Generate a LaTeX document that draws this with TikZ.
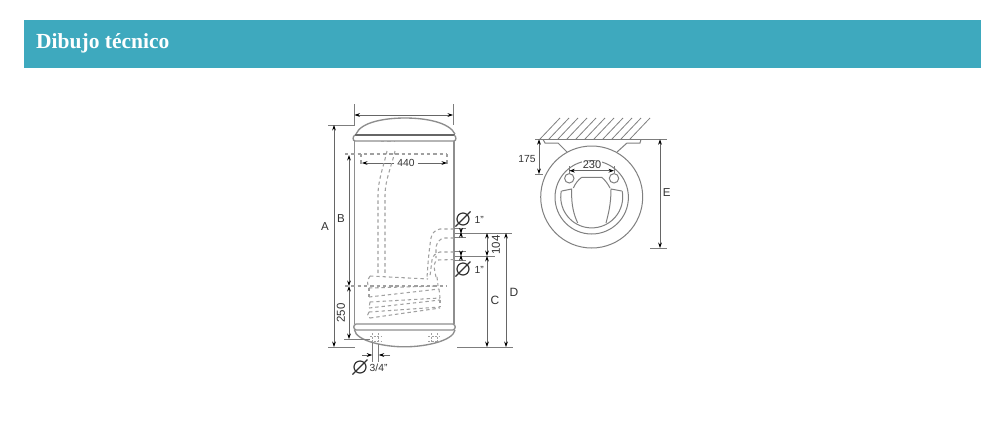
\documentclass[tikz,border=0pt]{standalone}
\usepackage{fontspec}
\setmainfont{Liberation Sans}
\newfontfamily\headfont{Liberation Serif Bold}
\usetikzlibrary{arrows.meta,calc}
\definecolor{band}{HTML}{3EA9BE}
\definecolor{tankc}{HTML}{8E8E8E}
\definecolor{dimc}{HTML}{666666}
\definecolor{dashc}{HTML}{A0A0A0}
\tikzset{
  tank/.style={draw=tankc,line width=1.35pt},
  view/.style={draw=tankc!90!black,line width=1pt},
  ext/.style={draw=dimc!85,line width=0.75pt},
  dimen/.style={draw=dimc,line width=0.75pt,{Stealth[length=5.5pt,width=3.8pt,black]}-{Stealth[length=5.5pt,width=3.8pt,black]}},
  arrow in/.style={draw=dimc,line width=0.75pt,-{Stealth[length=5.5pt,width=3.8pt,black]}},
  hidden/.style={draw=dashc,line width=1.05pt,dash pattern=on 3.4pt off 2.9pt},
  lab/.style={inner sep=0pt,text=black!80,font=\fontsize{11.5}{13}\selectfont},
  small/.style={inner sep=0pt,text=black!80,font=\fontsize{10.3}{12}\selectfont},
  phi/.style={circle,draw=black!80,line width=1.2pt,minimum size=12pt,inner sep=0pt},
}
\newcommand{\phisym}[2]{%
  \node[phi] (#1) at (#2) {};
  \draw[black!80,line width=1.2pt] ($(#1)+(-7.5,7.5)$) -- ($(#1)+(7.5,-7.5)$);}
\begin{document}
\begin{tikzpicture}[x=1pt,y=-1pt]
\useasboundingbox (0,0) rectangle (1000,424);
\fill[white] (0,0) rectangle (1000,424);
\fill[band] (24,20) rectangle (981,68);
\node[anchor=west,inner sep=0pt,text=white,font=\headfont\fontsize{21.5}{26}\selectfont] (title) at (36,43.5) {Dibujo técnico};

% tank
\draw[tank] (356,134) .. controls (361,122) and (385,118) .. (405,118) .. controls (425,118) and (449,122) .. (455,134);
\draw[tank,line width=1.6pt,draw=dimc] (355,134.7) -- (455,134.7);
\draw[tank] (355,135) .. controls (352.5,136) and (352.5,141) .. (355,141) -- (454,141) .. controls (456.5,141) and (456.5,136) .. (454,135);
\draw[tank] (354.7,141) -- (354.7,324);
\draw[tank] (454,141) -- (454,324);
\draw[tank] (356,324) -- (453,324) .. controls (456,325) and (456,329) .. (453,330) -- (356,330) .. controls (353,329) and (353,325) .. (356,324);
\draw[tank] (354.5,330) .. controls (356,341) and (385,347) .. (405,346.8) .. controls (425,346.8) and (453,341) .. (455,330);

% top dims
\draw[ext] (354.5,104) -- (354.5,125) -- (328,125);
\draw[ext] (453,104) -- (453,125);
\coordinate (wl) at (354.5,115); \coordinate (wr) at (453,115);
\draw[dimen] (wl) -- (wr);

% A, B, 250
\coordinate (Atop) at (334,125); \coordinate (Abot) at (334,347);
\draw[dimen] (Atop) -- (Abot);
\node[lab] (A) at (325,227) {A};
\draw[ext] (328,347) -- (355,347);
\coordinate (Btop) at (349,155); \coordinate (Bbot) at (349,286);
\draw[dimen] (Btop) -- (Bbot);
\node[lab] (B) at (341,219) {B};
\coordinate (Ctop) at (349,286); \coordinate (Cbot) at (349,339);
\draw[dimen] (Ctop) -- (Cbot);
\node[lab,rotate=90] (n250) at (341,313) {250};
\draw[ext] (344,339) -- (370,339);

% 440
\draw[hidden] (345,154) -- (447,154);
\draw[hidden] (361,154) -- (361,164);
\draw[hidden] (447,154) -- (447,164);
\node[small,fill=white,inner xsep=3pt] (n440) at (406,163) {440};
\coordinate (d440l) at (362,163); \coordinate (d440r) at (447,163);
\draw[arrow in] (n440.west) -- (d440l);
\draw[arrow in] (n440.east) -- (d440r);

% left riser
\draw[hidden] (381,141.7) -- (395,141.7);
\draw[hidden] (387,151) .. controls (384,165) and (378,180) .. (378,195) -- (378,275);
\draw[hidden] (395,151) .. controls (392,165) and (385,180) .. (385,195) -- (385,275);

% coil
\draw[hidden] (370,276) -- (428,279);
\draw[hidden] (370,276) .. controls (367,280) and (367,285) .. (369,288) -- (438,286);
\draw[hidden] (369,297) -- (439,289);
\draw[hidden] (437,277) -- (438,286);
\draw[hidden] (369,288) -- (369,297);
\draw[hidden] (439,289) -- (440,298);
\draw[hidden] (370,302) -- (440,298);
\draw[hidden] (369,308) -- (440,300);
\draw[hidden] (370,302) -- (369,308);
\draw[hidden] (440,300) -- (440,307);
\draw[hidden] (369,312) -- (440,307);
\draw[hidden] (370,318) -- (440,308);
\draw[hidden] (369,312) .. controls (367,314) and (367,316) .. (370,318);
\draw[hidden] (345,286) -- (447,286);

% right pipes
\draw[hidden] (454,229) -- (440,229) .. controls (434,230) and (432,234) .. (431,238) .. controls (429,250) and (428,262) .. (427,278);
\draw[hidden] (454,238) -- (444,238) .. controls (439,239) and (437,243) .. (436,247) -- (436,258);
\draw[hidden] (454,252) -- (440,252) .. controls (435,253) and (433,256) .. (432,260) -- (430,276);
\draw[hidden] (454,259.5) -- (438,260) .. controls (434,261) and (433,265) .. (436,277);

% right dims
\draw[ext] (455,233) -- (512,233);
\draw[ext] (455,256) -- (495,256);
\draw[ext] (457,347) -- (513,347);
\draw[ext] (454,228.5) -- (466,228.5);
\draw[ext] (454,237.5) -- (466,237.5);
\draw[ext] (454,251) -- (466,251);
\draw[ext] (454,260) -- (466,260);
\draw[arrow in] (461,237.5) -- (461,232);
\draw[arrow in] (461,228.5) -- (461,233.5);
\draw[arrow in] (461,260) -- (461,255);
\draw[arrow in] (461,251) -- (461,256);
\coordinate (Ct) at (487,256); \coordinate (Cb) at (487,347);
\draw[dimen] (Ct) -- (Cb);
\coordinate (nt) at (487,233); \coordinate (nb) at (487,256);
\draw[dimen] (nt) -- (nb);
\node[lab,rotate=90] (n104) at (496,245) {104};
\node[lab,font=\fontsize{12}{13}\selectfont] (C) at (495,300) {C};
\coordinate (Dt) at (506,233); \coordinate (Db) at (506,347);
\draw[dimen] (Dt) -- (Db);
\node[lab,font=\fontsize{12}{13}\selectfont] (D) at (514,292) {D};
\phisym{p1}{463,219}
\node[small,anchor=west] (t1) at (474.5,220) {1"};
\phisym{p2}{463,269}
\node[small,anchor=west] (t2) at (474.5,270) {1"};

% bottom
\foreach \x in {372,378,431,437}{\draw[dashc,line width=0.7pt,dash pattern=on 2pt off 1.5pt] (\x,333) -- (\x,342);}
\draw[dashc,line width=0.7pt,dash pattern=on 2pt off 1.5pt] (370,336) -- (381,336) (370,341) -- (381,341) (428,336) -- (439,336) (428,341) -- (439,341);
\draw[ext] (372.3,343) -- (372.3,362);
\draw[ext] (378.7,344) -- (378.7,362);
\coordinate (b1) at (362,355); \coordinate (b1e) at (372.3,355);
\coordinate (b2) at (390,355); \coordinate (b2e) at (378.7,355);
\draw[arrow in] (b1) -- (b1e);
\draw[arrow in] (b2) -- (b2e);
\phisym{p3}{360,367}
\node[small,anchor=west] (t3) at (369.5,368) {3/4"};

% top view
\draw[ext] (535,139.3) -- (667,139.3);
\foreach \i in {0,...,10}{\draw[view,line width=0.8pt] ({560+9*\i},118) -- ({540+9*\i},139);}
\draw[view] (543,139.3) -- (545,143) -- (558,143) -- (567,152);
\draw[view] (641,139.3) -- (640,143) -- (627,143) -- (617,152);
\coordinate (cc) at (591.7,197);
\draw[view] (cc) circle[radius=51];
\draw[view] (591.7,197.3) circle[radius=36.7];
\draw[view] (561.3,191) arc[start angle=191,end angle=-11,radius=31];
\draw[view] (561.7,191) -- (571.7,189) .. controls (571,205) and (574,215) .. (577.7,223);
\draw[view] (621.7,191) -- (611,189) .. controls (611,205) and (608,215) .. (606,223);
\draw[view] (581.7,177.3) -- (601.7,177.3) .. controls (605,180) and (608,184) .. (610,188);
\draw[view] (581.7,177.3) .. controls (578,180) and (575,184) .. (573.3,188);
\node[circle,draw=tankc!90!black,line width=1pt,minimum size=9.4pt,inner sep=0pt] (h1) at (569.3,178.3) {};
\node[circle,draw=tankc!90!black,line width=1pt,minimum size=9.4pt,inner sep=0pt] (h2) at (614,178.3) {};
\draw[ext] (h1.north) ++(0,-7) -- (h1.north);
\draw[ext] (h2.north) ++(0,-7) -- (h2.north);
\coordinate (e1) at (569.3,170.7); \coordinate (e2) at (614,170.7);
\draw[dimen] (e1) -- (e2);
\node[lab,font=\fontsize{11}{12}\selectfont,fill=white,inner sep=0.5pt] (n230) at (592,165) {230};
\coordinate (f1) at (539,139.3); \coordinate (f2) at (539,174);
\draw[dimen] (f1) -- (f2);
\draw[ext] (535,174) -- (543,174);
\node[small] (n175) at (527,159.5) {175};
\coordinate (g1) at (660,139.3); \coordinate (g2) at (660,248);
\draw[dimen] (g1) -- (g2);
\draw[ext] (650,248) -- (667,248);
\node[lab] (E) at (666.7,193) {E};
\end{tikzpicture}
\end{document}
